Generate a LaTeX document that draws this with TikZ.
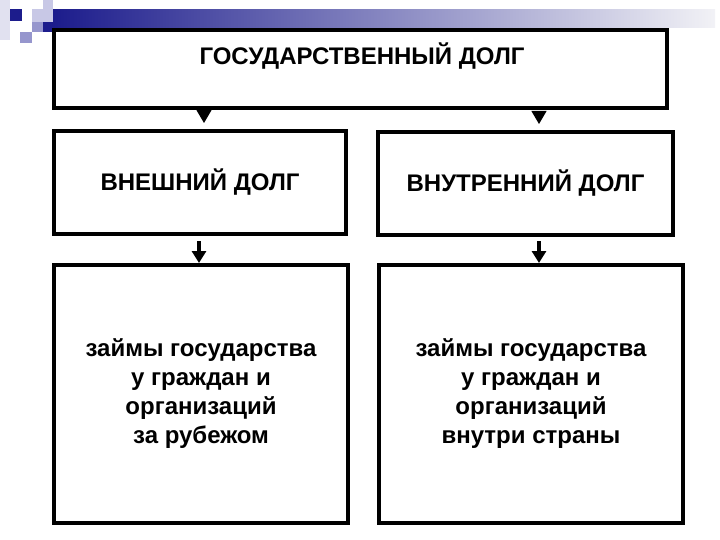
\documentclass[tikz,border=0pt]{standalone}
\usepackage{fontspec}
\setmainfont{Liberation Sans}
\usetikzlibrary{arrows.meta}
\definecolor{navy}{RGB}{28,28,140}
\definecolor{barend}{RGB}{242,242,246}
\definecolor{lav}{RGB}{200,200,230}
\definecolor{lavmid}{RGB}{150,150,205}
\definecolor{lavpale}{RGB}{225,225,240}
\tikzset{
  box/.style={draw=black, line width=4pt, fill=white, inner sep=0pt, align=center, font=\bfseries\fontsize{24}{29}\selectfont},
  bigtip/.style={-{Triangle[length=13pt,width=15pt]}, line width=1pt, shorten >=6pt},
  smalltip/.style={-{Triangle[length=12pt,width=14pt]}, line width=4pt}
}
\begin{document}
\begin{tikzpicture}[x=1pt,y=-1pt]
\useasboundingbox (0,0) rectangle (720,540);
% decorative squares
\fill[lavpale] (0,0) rectangle (10,40);
\fill[lav] (43,0) rectangle (53,22);
\fill[lav] (32,9) rectangle (43,22);
\fill[lavmid] (32,22) rectangle (43,32);
\fill[navy] (43,22) rectangle (53,32);
\fill[navy] (10,9) rectangle (22,21);
\fill[lavmid] (20,32) rectangle (32,43);
% gradient bar
\shade[left color=navy, right color=barend] (53,10) rectangle (715,28);
% boxes
\node[box, minimum width=613pt, minimum height=78pt] (top) at (360.5,69) {};
\node[font=\bfseries\fontsize{24}{29}\selectfont] (toptxt) at (362,56) {ГОСУДАРСТВЕННЫЙ ДОЛГ};
\node[box, minimum width=292pt, minimum height=103pt] (ext) at (200,182.5) {ВНЕШНИЙ ДОЛГ};
\node[box, minimum width=295pt, minimum height=103pt] (int) at (525.5,183.5) {ВНУТРЕННИЙ ДОЛГ};
\node[box, minimum width=294pt, minimum height=258pt] (extd) at (201,394) {займы государства\\у граждан и\\организаций\\за рубежом};
\node[box, minimum width=304pt, minimum height=258pt] (intd) at (531,394) {займы государства\\у граждан и\\организаций\\внутри страны};
% connectors
\coordinate (a1) at (204,112);
\coordinate (a2) at (539,112);
\draw[bigtip] (a1) -- (a1 |- ext.north);
\draw[bigtip] (a2) -- (a2 |- int.north);
\coordinate (b1) at (199,241);
\coordinate (b2) at (539,241);
\draw[smalltip] (b1) -- (b1 |- extd.north);
\draw[smalltip] (b2) -- (b2 |- intd.north);
\end{tikzpicture}
\end{document}
